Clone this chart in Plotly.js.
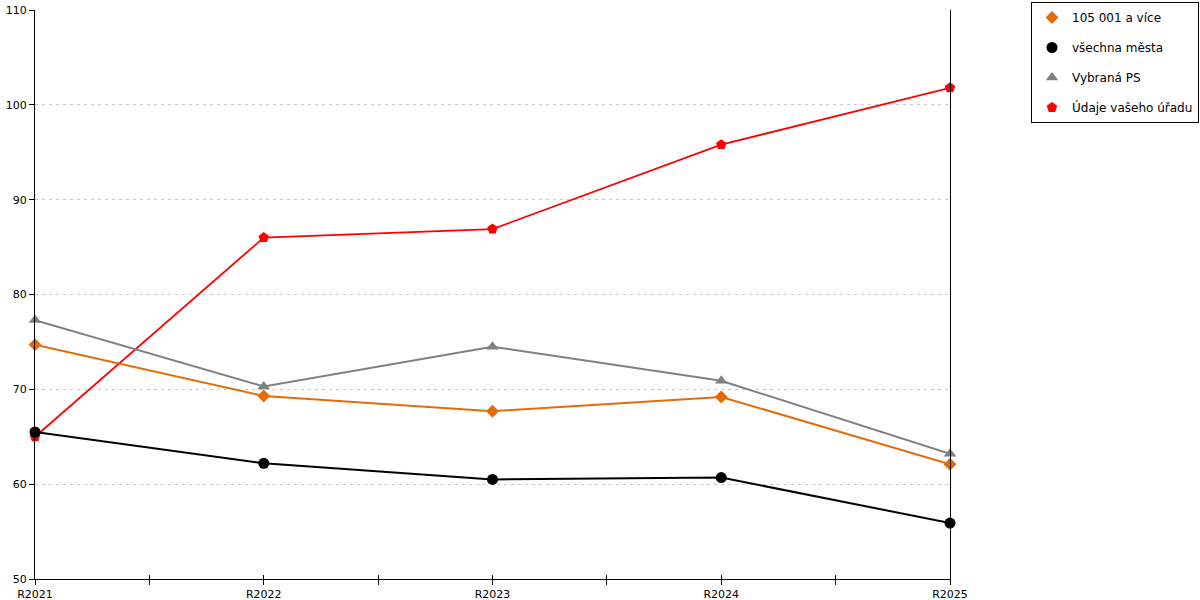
<!DOCTYPE html>
<html><head><meta charset="utf-8">
<script src="https://cdn.plot.ly/plotly-3.0.1.min.js"></script>
<style>html,body{margin:0;padding:0;background:#fff}#chart{width:1200px;height:600px}</style>
</head><body><div id="chart"></div>
<script>
const categories = ["R2021","R2022","R2023","R2024","R2025"];
const seriesNames = ["105 001 a více","všechna města","Vybraná PS","Údaje vašeho úřadu"];
const valuesLarge = [74.7, 69.3, 67.7, 69.2, 62.1];
const valuesAll = [65.5, 62.2, 60.5, 60.7, 55.9];
const valuesPS = [77.3, 70.3, 74.5, 70.9, 63.2];
const valuesOffice = [65.0, 86.0, 86.9, 95.8, 101.8];
const yTicks = [50, 60, 70, 80, 90, 100, 110];

const xIdx = categories.map((c, i) => i);
const styles = [
  {color: "#E36C09", symbol: "diamond", size: 10, width: 2},
  {color: "#000000", symbol: "circle", size: 11, width: 2},
  {color: "#808080", symbol: "triangle-up", size: 11, width: 2},
  {color: "#FF0000", symbol: "pentagon", size: 11, width: 1.8}
];
const allValues = [valuesLarge, valuesAll, valuesPS, valuesOffice];
const drawOrder = [3, 2, 0, 1];
const traces = [];
drawOrder.forEach(k => {
  traces.push({
    x: xIdx, y: allValues[k], type: "scatter", mode: "lines+markers",
    name: seriesNames[k], showlegend: false, cliponaxis: false,
    line: {color: styles[k].color, width: styles[k].width},
    marker: {color: styles[k].color, symbol: styles[k].symbol, size: styles[k].size},
    hoverinfo: "x+y"
  });
});
[0, 1, 2, 3].forEach(k => {
  traces.push({
    x: [null], y: [null], type: "scatter", mode: "markers",
    name: seriesNames[k], legendgroup: "g" + k, showlegend: true,
    marker: {color: styles[k].color, symbol: styles[k].symbol, size: styles[k].size}
  });
});
// crossing tick marks (inside part)
traces.push({x: [0], y: [null], xaxis: "x2", type: "scatter", mode: "markers", showlegend: false, hoverinfo: "skip"});

const tickVals = [];
for (let v = 0; v <= categories.length - 1; v += 0.5) tickVals.push(v);
const tickText = tickVals.map(v => Number.isInteger(v) ? categories[v] : "");

const layout = {
  width: 1200, height: 600,
  margin: {l: 35, r: 250, t: 10, b: 21, pad: 0, autoexpand: false},
  paper_bgcolor: "#fff", plot_bgcolor: "#fff",
  font: {family: "DejaVu Sans, Verdana, sans-serif", size: 11, color: "#000"},
  showlegend: true,
  legend: {
    xref: "container", yref: "container",
    x: 1199 / 1200, xanchor: "right", y: 1 - 2 / 600, yanchor: "top",
    bordercolor: "#000", borderwidth: 1, bgcolor: "#fff",
    font: {size: 12, family: "DejaVu Sans, Verdana, sans-serif"},
    tracegroupgap: 11, itemwidth: 30
  },
  xaxis: {
    range: [0, categories.length - 1], tickmode: "array",
    tickvals: tickVals, ticktext: tickText,
    showgrid: false, zeroline: false, showline: true, linecolor: "#000", linewidth: 1,
    ticks: "outside", ticklen: 5, tickcolor: "#000", tickwidth: 1,
    tickfont: {size: 11}, fixedrange: true
  },
  xaxis2: {
    overlaying: "x", side: "bottom", anchor: "y",
    range: [0, categories.length - 1], tickmode: "array",
    tickvals: tickVals, ticktext: tickVals.map(() => ""),
    showgrid: false, zeroline: false, showline: false,
    ticks: "inside", ticklen: 4, tickcolor: "#000", tickwidth: 1, showticklabels: false
  },
  yaxis: {
    range: [50, 110], tickmode: "array", tickvals: yTicks,
    showgrid: true, gridcolor: "#C8C8C8", griddash: "3px,4px", gridwidth: 1,
    zeroline: false, showline: true, mirror: true, linecolor: "#000", linewidth: 1,
    ticks: "outside", ticklen: 5, tickcolor: "#000", tickwidth: 1,
    tickfont: {size: 11}, fixedrange: true
  }
};
Plotly.newPlot("chart", traces, layout, {displayModeBar: false, staticPlot: true});
</script></body></html>
